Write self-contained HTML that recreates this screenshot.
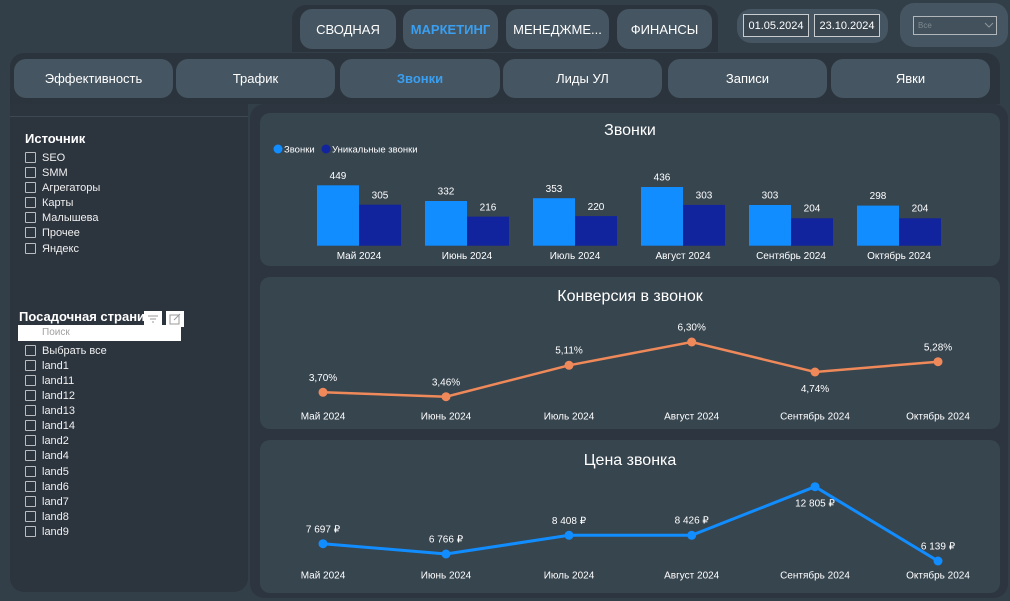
<!DOCTYPE html>
<html><head><meta charset="utf-8">
<style>
*{margin:0;padding:0;box-sizing:border-box}
body{width:1010px;height:601px;background:#333f48;font-family:"Liberation Sans","Noto Sans CJK SC",sans-serif;position:relative;overflow:hidden;color:#fff}
.abs{position:absolute}
.btn{position:absolute;background:#455561;border-radius:12px;display:flex;align-items:center;justify-content:center;font-size:13px;color:#fff}
.act{color:#3a9ff0;font-weight:bold}
.cb{position:absolute;width:11px;height:11px;border:1px solid #b9bcc0;border-radius:1px}
.it{position:absolute;font-size:11px;color:#f0f0f0;line-height:12px}
</style></head><body>
<!-- top nav -->
<div class="abs" style="left:292px;top:5px;width:426px;height:47px;background:#2b343d;border-radius:14px 14px 0 0"></div>
<div class="btn" style="left:300px;top:9px;width:96px;height:40px">СВОДНАЯ</div>
<div class="btn act" style="left:403px;top:9px;width:95px;height:40px">МАРКЕТИНГ</div>
<div class="btn" style="left:506px;top:9px;width:103px;height:40px">МЕНЕДЖМЕ...</div>
<div class="btn" style="left:617px;top:9px;width:95px;height:40px">ФИНАНСЫ</div>
<!-- dates -->
<div class="abs" style="left:737px;top:9px;width:151px;height:34px;background:#455561;border-radius:14px"></div>
<div class="abs" style="left:743px;top:14px;width:66px;height:23px;border:1px solid #c9cdd0;background:#3a4650;font-size:11px;display:flex;align-items:center;justify-content:center">01.05.2024</div>
<div class="abs" style="left:814px;top:14px;width:66px;height:23px;border:1px solid #c9cdd0;background:#3a4650;font-size:11px;display:flex;align-items:center;justify-content:center">23.10.2024</div>
<!-- dropdown -->
<div class="abs" style="left:900px;top:3px;width:108px;height:44px;background:#455561;border-radius:14px"></div>
<div class="abs" style="left:913px;top:16px;width:84px;height:19px;border:1px solid #b0b6ba;background:#42515c;font-size:8px;color:#7f8a92;padding-left:4px;line-height:17px">Все
<svg class="abs" style="left:70px;top:5px" width="10" height="7"><polyline points="1,1 5,5 9,1" fill="none" stroke="#8c969d" stroke-width="1"/></svg></div>
<!-- second nav -->
<div class="abs" style="left:10px;top:53px;width:990px;height:51px;background:#2b343d;border-radius:14px 14px 0 0"></div>
<div class="btn" style="left:14px;top:59px;width:159px;height:39px">Эффективность</div>
<div class="btn" style="left:176px;top:59px;width:159px;height:39px">Трафик</div>
<div class="btn act" style="left:340px;top:59px;width:160px;height:39px">Звонки</div>
<div class="btn" style="left:503px;top:59px;width:159px;height:39px">Лиды УЛ</div>
<div class="btn" style="left:668px;top:59px;width:159px;height:39px">Записи</div>
<div class="btn" style="left:831px;top:59px;width:159px;height:39px">Явки</div>
<!-- left panel -->
<div class="abs" style="left:10px;top:104px;width:238px;height:488px;background:#2c343e;border-radius:0 0 14px 14px"></div>
<div class="abs" style="left:10px;top:116px;width:238px;height:1px;background:#3d4852"></div>
<div class="abs" style="left:25px;top:131px;font-size:13px;font-weight:bold">Источник</div>
<div class="cb" style="left:25px;top:152px"></div><div class="it" style="left:42px;top:152px">SEO</div>
<div class="cb" style="left:25px;top:167px"></div><div class="it" style="left:42px;top:167px">SMM</div>
<div class="cb" style="left:25px;top:182px"></div><div class="it" style="left:42px;top:182px">Агрегаторы</div>
<div class="cb" style="left:25px;top:197px"></div><div class="it" style="left:42px;top:197px">Карты</div>
<div class="cb" style="left:25px;top:212px"></div><div class="it" style="left:42px;top:212px">Малышева</div>
<div class="cb" style="left:25px;top:227px"></div><div class="it" style="left:42px;top:227px">Прочее</div>
<div class="cb" style="left:25px;top:243px"></div><div class="it" style="left:42px;top:243px">Яндекс</div>

<div class="abs" style="left:19px;top:309px;font-size:13px;font-weight:bold;line-height:16px">Посадочная страни</div>
<div class="abs" style="left:144px;top:311px;width:18px;height:16px;background:#fff"><svg width="18" height="16"><g stroke="#999" stroke-width="1"><line x1="4" y1="5" x2="14" y2="5"/><line x1="6" y1="8" x2="12" y2="8"/><line x1="8" y1="11" x2="10" y2="11"/></g></svg></div>
<div class="abs" style="left:166px;top:311px;width:18px;height:16px;background:#fff"><svg width="18" height="16"><g stroke="#999" stroke-width="1" fill="none"><rect x="4" y="4" width="9" height="9"/><line x1="8" y1="9" x2="14" y2="3"/></g></svg></div>
<div class="abs" style="left:18px;top:325px;width:163px;height:16px;background:#fff;font-size:10px;color:#a0a0a0;padding-left:24px;line-height:16px">Поиск</div>
<div class="cb" style="left:25px;top:345px"></div><div class="it" style="left:42px;top:345px">Выбрать все</div>
<div class="cb" style="left:25px;top:360px"></div><div class="it" style="left:42px;top:360px">land1</div>
<div class="cb" style="left:25px;top:375px"></div><div class="it" style="left:42px;top:375px">land11</div>
<div class="cb" style="left:25px;top:390px"></div><div class="it" style="left:42px;top:390px">land12</div>
<div class="cb" style="left:25px;top:405px"></div><div class="it" style="left:42px;top:405px">land13</div>
<div class="cb" style="left:25px;top:420px"></div><div class="it" style="left:42px;top:420px">land14</div>
<div class="cb" style="left:25px;top:435px"></div><div class="it" style="left:42px;top:435px">land2</div>
<div class="cb" style="left:25px;top:450px"></div><div class="it" style="left:42px;top:450px">land4</div>
<div class="cb" style="left:25px;top:466px"></div><div class="it" style="left:42px;top:466px">land5</div>
<div class="cb" style="left:25px;top:481px"></div><div class="it" style="left:42px;top:481px">land6</div>
<div class="cb" style="left:25px;top:496px"></div><div class="it" style="left:42px;top:496px">land7</div>
<div class="cb" style="left:25px;top:511px"></div><div class="it" style="left:42px;top:511px">land8</div>
<div class="cb" style="left:25px;top:526px"></div><div class="it" style="left:42px;top:526px">land9</div>

<!-- charts -->
<svg class="abs" style="left:0;top:0" width="1010" height="601" font-family="Liberation Sans, sans-serif">
<rect x="250" y="104" width="758" height="494" rx="14" fill="#2d3640"/>
<rect x="260" y="113" width="740" height="153" rx="10" fill="#37454f"/>
<rect x="260" y="277" width="740" height="152" rx="10" fill="#37454f"/>
<rect x="260" y="440" width="740" height="153" rx="10" fill="#37454f"/>

<!-- bar chart -->
<text x="630" y="135" font-size="16" fill="#fff" text-anchor="middle">Звонки</text>
<circle cx="278" cy="149" r="4.5" fill="#118dff"/>
<text x="284" y="152.5" font-size="9.5" fill="#fff">Звонки</text>
<circle cx="326" cy="149" r="4.5" fill="#12239e"/>
<text x="332" y="152.5" font-size="9.5" fill="#fff">Уникальные звонки</text>
<g fill="#118dff">
<rect x="317" y="185.3" width="42" height="60.4"/>
<rect x="425" y="201" width="42" height="44.7"/>
<rect x="533" y="198.2" width="42" height="47.5"/>
<rect x="641" y="187" width="42" height="58.7"/>
<rect x="749" y="205" width="42" height="40.7"/>
<rect x="857" y="205.6" width="42" height="40.1"/>
</g>
<g fill="#12239e">
<rect x="359" y="204.7" width="42" height="41"/>
<rect x="467" y="216.6" width="42" height="29.1"/>
<rect x="575" y="216.1" width="42" height="29.6"/>
<rect x="683" y="204.9" width="42" height="40.8"/>
<rect x="791" y="218.3" width="42" height="27.4"/>
<rect x="899" y="218.3" width="42" height="27.4"/>
</g>
<g font-size="10" fill="#fff" text-anchor="middle">
<text x="338" y="179">449</text><text x="380" y="198.5">305</text>
<text x="446" y="194.5">332</text><text x="488" y="210.5">216</text>
<text x="554" y="192">353</text><text x="596" y="210">220</text>
<text x="662" y="180.5">436</text><text x="704" y="198.5">303</text>
<text x="770" y="198.5">303</text><text x="812" y="211.5">204</text>
<text x="878" y="199">298</text><text x="920" y="211.5">204</text>
<text x="359" y="259">Май 2024</text>
<text x="467" y="259">Июнь 2024</text>
<text x="575" y="259">Июль 2024</text>
<text x="683" y="259">Август 2024</text>
<text x="791" y="259">Сентябрь 2024</text>
<text x="899" y="259">Октябрь 2024</text>
</g>

<!-- conversion -->
<text x="630" y="301" font-size="16" fill="#fff" text-anchor="middle">Конверсия в звонок</text>
<polyline points="323,392.3 446,396.7 569,365.3 691.7,342 815,372 938,361.7" fill="none" stroke="#f0895a" stroke-width="2.5"/>
<g fill="#f0895a">
<circle cx="323" cy="392.3" r="4.5"/><circle cx="446" cy="396.7" r="4.5"/><circle cx="569" cy="365.3" r="4.5"/>
<circle cx="691.7" cy="342" r="4.5"/><circle cx="815" cy="372" r="4.5"/><circle cx="938" cy="361.7" r="4.5"/>
</g>
<g font-size="10" fill="#fff" text-anchor="middle">
<text x="323" y="381">3,70%</text>
<text x="446" y="385.3">3,46%</text>
<text x="569" y="353.6">5,11%</text>
<text x="691.7" y="330.3">6,30%</text>
<text x="815" y="392">4,74%</text>
<text x="938" y="350.3">5,28%</text>
<text x="323" y="419.3">Май 2024</text>
<text x="446" y="419.3">Июнь 2024</text>
<text x="569" y="419.3">Июль 2024</text>
<text x="691.7" y="419.3">Август 2024</text>
<text x="815" y="419.3">Сентябрь 2024</text>
<text x="938" y="419.3">Октябрь 2024</text>
</g>

<!-- price -->
<text x="630" y="465" font-size="16" fill="#fff" text-anchor="middle">Цена звонка</text>
<polyline points="323,543.7 446,554 569,535.3 691.7,535.3 815,486.7 938,561" fill="none" stroke="#118dff" stroke-width="3"/>
<g fill="#118dff">
<circle cx="323" cy="543.7" r="4.5"/><circle cx="446" cy="554" r="4.5"/><circle cx="569" cy="535.3" r="4.5"/>
<circle cx="691.7" cy="535.3" r="4.5"/><circle cx="815" cy="486.7" r="4.5"/><circle cx="938" cy="561" r="4.5"/>
</g>
<g font-size="10" fill="#fff" text-anchor="middle">
<text x="323" y="532.3">7 697 ₽</text>
<text x="446" y="542.3">6 766 ₽</text>
<text x="569" y="524">8 408 ₽</text>
<text x="691.7" y="523.7">8 426 ₽</text>
<text x="815" y="506.3">12 805 ₽</text>
<text x="938" y="549.3">6 139 ₽</text>
<text x="323" y="578.3">Май 2024</text>
<text x="446" y="578.3">Июнь 2024</text>
<text x="569" y="578.3">Июль 2024</text>
<text x="691.7" y="578.3">Август 2024</text>
<text x="815" y="578.3">Сентябрь 2024</text>
<text x="938" y="578.3">Октябрь 2024</text>
</g>
</svg>
</body></html>
